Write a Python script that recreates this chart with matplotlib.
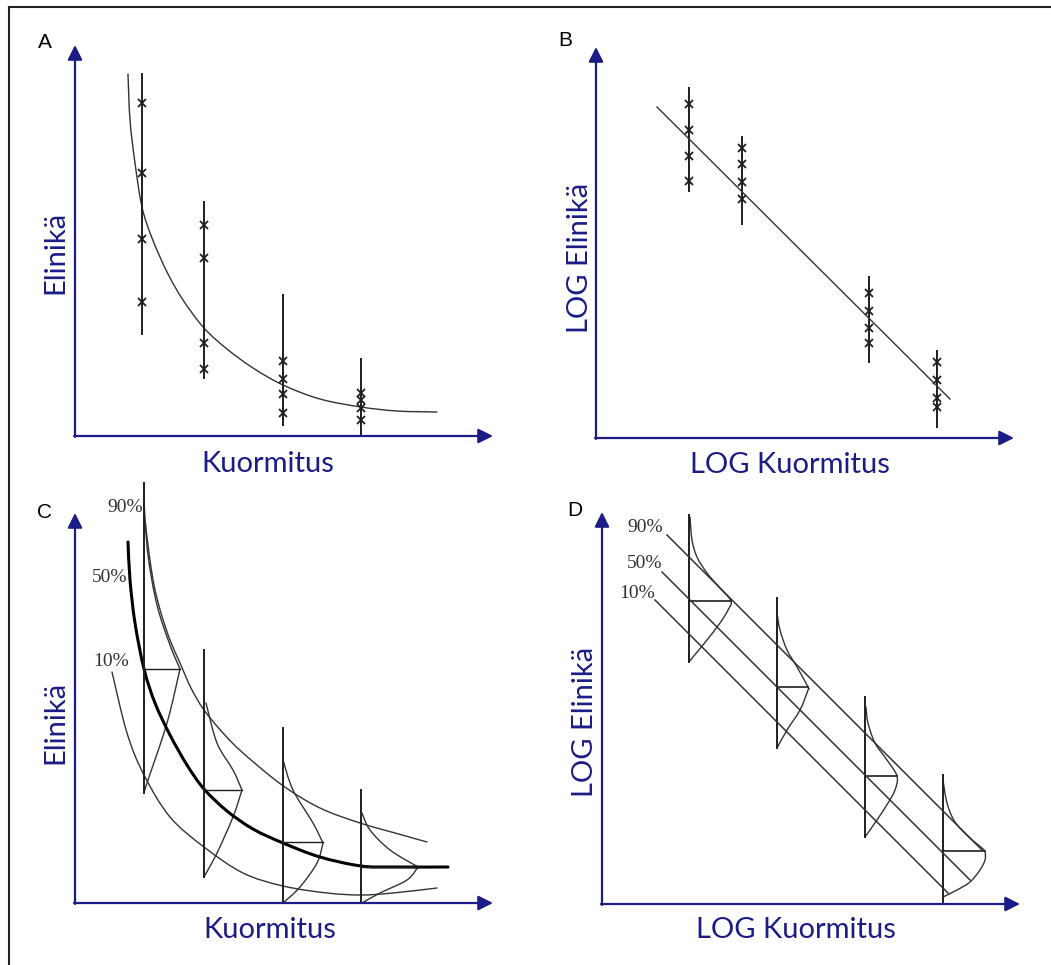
import matplotlib.pyplot as plt
import matplotlib as mpl
from matplotlib.lines import Line2D
from matplotlib.path import Path
from matplotlib.patches import PathPatch

mpl.rcParams['font.family'] = ['Lato', 'DejaVu Sans']

W, H = 1051, 965
NAVY = '#1c1c86'
INK = '#1e1e1e'
GREY = '#333333'

# ---- Panel A: life vs load (linear), scatter + fitted curve ----
A_load = [67, 129, 208, 286]
A_top = [362, 234, 141, 77]
A_bottom = [102, 58, 11, 0]
A_life = [[333, 263, 197, 134], [211, 178, 93, 67], [75, 57, 42, 23], [43, 36, 28, 16]]
A_curve_x = [53, 55, 60, 67, 77, 92, 108, 129, 152, 178, 208, 245, 286, 322, 362]
A_curve_y = [362, 316, 273, 229, 198, 164, 136, 108, 87, 68, 51, 37, 29, 25, 24]

# ---- Panel B: log life vs log load, scatter + fitted line ----
B_load = [93, 146, 273, 341]
B_top = [350, 301, 161, 87]
B_bottom = [247, 214, 76, 11]
B_life = [[334, 308, 282, 257], [290, 274, 256, 239], [145, 127, 110, 95], [76, 58, 40, 31]]
B_fit_x = [61, 354]
B_fit_y = [331, 39]

# ---- Panel C: percentile curves + life distributions (linear) ----
C_load = [69, 129, 208, 286]
C_top = [431, 253, 175, 113]
C_bottom = [110, 26, 0, 0]
C_p50_x = [53, 55, 60, 69, 80, 95, 112, 129, 152, 178, 208, 245, 286, 318, 373]
C_p50_y = [361, 323, 280, 234, 200, 168, 138, 114, 92, 74, 60, 46, 37, 36, 36]
C_p90_x = [70, 74, 79, 86, 95, 105, 116, 129, 148, 168, 207, 245, 285, 320, 352]
C_p90_y = [383, 350, 318, 290, 263, 240, 215, 193, 170, 150, 118, 95, 80, 70, 61]
C_p10_x = [37, 52, 69, 95, 129, 168, 208, 252, 286, 318, 362]
C_p10_y = [231, 170, 128, 86, 56, 30, 17, 10, 8, 10, 15]
C_median = [234, 113, 61, 36]
C_peak = [105, 167, 248, 343]
# distributions: upper tail down to the peak, then lower tail back to the line
C_up_x = [[69, 73, 82, 95, 105], [131, 142, 158, 167], [208, 218, 238, 248], [287, 295, 315, 343]]
C_up_y = [[401, 348, 298, 258, 234], [200, 160, 133, 113], [143, 113, 80, 60], [90, 73, 53, 36]]
C_lo_x = [[105, 92, 72, 69], [167, 158, 142, 129], [248, 242, 225, 208], [343, 332, 305, 287]]
C_lo_y = [[234, 180, 120, 110], [113, 86, 50, 26], [60, 40, 16, 0], [36, 23, 10, 0]]

# ---- Panel D: log percentile lines + life distributions ----
D_load = [87, 175, 263, 341]
D_top = [389, 306, 207, 129]
D_bottom = [242, 156, 67, 0]
D_lines_x = [[65, 380], [60, 368], [53, 346]]
D_lines_y = [[369, 54], [332, 24], [304, 11]]
D_median = [303, 217, 128, 53]
D_peak = [129, 206, 295, 383]
D_pdf_x = [[88, 90, 95, 105, 118, 129, 126, 118, 105, 91, 87],
           [175, 178, 185, 195, 206, 206, 198, 185, 175],
           [264, 266, 273, 285, 295, 293, 286, 275, 263],
           [341, 345, 353, 368, 380, 383, 383, 378, 368, 355, 341]]
D_pdf_y = [[387, 364, 347, 331, 316, 303, 294, 281, 264, 247, 242],
           [291, 274, 254, 237, 217, 214, 194, 174, 156],
           [197, 181, 161, 144, 128, 114, 101, 84, 67],
           [124, 101, 82, 66, 56, 52, 44, 34, 22, 14, 7]]

PCT_LABELS = ['90%', '50%', '10%']
C_pct_pos = [(50, 396), (35, 326), (36, 241)]
D_pct_pos = [(43, 377), (43, 341), (35, 310)]


def panel(fig, quad, origin):
    qx0, qy0, qx1, qy1 = quad
    ox, oy = origin
    ax = fig.add_axes([qx0 / W, 1 - qy1 / H, (qx1 - qx0) / W, (qy1 - qy0) / H])
    ax.set_xlim(qx0 - ox, qx1 - ox)
    ax.set_ylim(oy - qy1, oy - qy0)
    ax.axis('off')
    return ax


def smooth(ax, xs, ys, **kw):
    # Catmull-Rom through the read points, drawn as cubic bezier path
    pts = list(zip(xs, ys))
    n = len(pts)
    verts = [pts[0]]
    codes = [Path.MOVETO]
    for i in range(n - 1):
        p0, p1 = pts[max(i - 1, 0)], pts[i]
        p2, p3 = pts[i + 1], pts[min(i + 2, n - 1)]
        c1 = (p1[0] + (p2[0] - p0[0]) / 6, p1[1] + (p2[1] - p0[1]) / 6)
        c2 = (p2[0] - (p3[0] - p1[0]) / 6, p2[1] - (p3[1] - p1[1]) / 6)
        verts += [c1, c2, p2]
        codes += [Path.CURVE4] * 3
    ax.add_patch(PathPatch(Path(verts, codes), fill=False, capstyle='round', **kw))


def arrows(ax, xtip, ytip):
    props = dict(arrowstyle='-|>', color=NAVY, lw=1.6, mutation_scale=22,
                 shrinkA=0, shrinkB=0)
    ax.annotate('', xy=(0, ytip), xytext=(0, -1), arrowprops=props)
    ax.annotate('', xy=(xtip, 0), xytext=(-1, 0), arrowprops=props)


def labels(ax, letter, lpos, xlab, xpos, ylab, ypos):
    ax.text(*lpos, letter, fontsize=15, family='Liberation Sans', color='black',
            ha='center', va='center')
    ax.text(*xpos, xlab, fontsize=21, color=NAVY, ha='center', va='center')
    ax.text(*ypos, ylab, fontsize=21, color=NAVY, ha='center', va='center',
            rotation=90)


def pct(ax, positions):
    for s, (x, y) in zip(PCT_LABELS, positions):
        ax.text(x, y, s, fontsize=14, family='Liberation Serif', color=GREY,
                ha='center', va='center')


fig = plt.figure(figsize=(W / 100, H / 100), dpi=100)

# A
ax = panel(fig, (0, 0, 525, 482), (75, 436))
arrows(ax, 418, 391)
for x, t, b, ys in zip(A_load, A_top, A_bottom, A_life):
    ax.plot([x, x], [b, t], color=INK, lw=1.4)
    ax.plot([x] * len(ys), ys, 'x', color=INK, ms=6, mew=1.3)
smooth(ax, A_curve_x, A_curve_y, color=GREY, lw=1.0)
labels(ax, 'A', (-30, 394), 'Kuormitus', (193, -28), 'Elinikä', (-20, 184))

# B
ax = panel(fig, (525, 0, 1051, 482), (596, 438))
arrows(ax, 418, 391)
for x, t, b, ys in zip(B_load, B_top, B_bottom, B_life):
    ax.plot([x, x], [b, t], color=INK, lw=1.4)
    ax.plot([x] * len(ys), ys, 'x', color=INK, ms=6, mew=1.3)
ax.plot(B_fit_x, B_fit_y, color=GREY, lw=1.0)
labels(ax, 'B', (-31, 397), 'LOG Kuormitus', (194, -27), 'LOG Elinikä', (-16, 180))

# C
ax = panel(fig, (0, 482, 525, 965), (75, 903))
arrows(ax, 418, 390)
for x, t, b in zip(C_load, C_top, C_bottom):
    ax.plot([x, x], [b, t], color=INK, lw=1.4)
for x, m, p in zip(C_load, C_median, C_peak):
    ax.plot([x, p], [m, m], color=INK, lw=1.0)
for ux, uy, lx, ly in zip(C_up_x, C_up_y, C_lo_x, C_lo_y):
    smooth(ax, ux, uy, color=GREY, lw=1.0)
    smooth(ax, lx, ly, color=GREY, lw=1.0)
smooth(ax, C_p90_x, C_p90_y, color=GREY, lw=1.0)
smooth(ax, C_p10_x, C_p10_y, color=GREY, lw=1.0)
smooth(ax, C_p50_x, C_p50_y, color='black', lw=2.2)
pct(ax, C_pct_pos)
labels(ax, 'C', (-30, 391), 'Kuormitus', (195, -27), 'Elinikä', (-20, 181))

# D
ax = panel(fig, (525, 482, 1051, 965), (602, 904))
arrows(ax, 418, 392)
for x, t, b in zip(D_load, D_top, D_bottom):
    ax.plot([x, x], [b, t], color=INK, lw=1.4)
for x, m, p in zip(D_load, D_median, D_peak):
    ax.plot([x, p], [m, m], color=INK, lw=1.2)
for xs, ys in zip(D_lines_x, D_lines_y):
    ax.plot(xs, ys, color=GREY, lw=1.1)
for xs, ys in zip(D_pdf_x, D_pdf_y):
    smooth(ax, xs, ys, color=GREY, lw=1.0)
pct(ax, D_pct_pos)
labels(ax, 'D', (-27, 394), 'LOG Kuormitus', (194, -26), 'LOG Elinikä', (-17, 182))

# outer frame (top and left edges only)
fig.add_artist(Line2D([9 / W, 9 / W], [0, 1 - 7 / H], color='#222222', lw=1.5))
fig.add_artist(Line2D([9 / W, 1], [1 - 7 / H, 1 - 7 / H], color='#222222', lw=1.5))

fig.savefig('out.png', dpi=100, facecolor='white')
